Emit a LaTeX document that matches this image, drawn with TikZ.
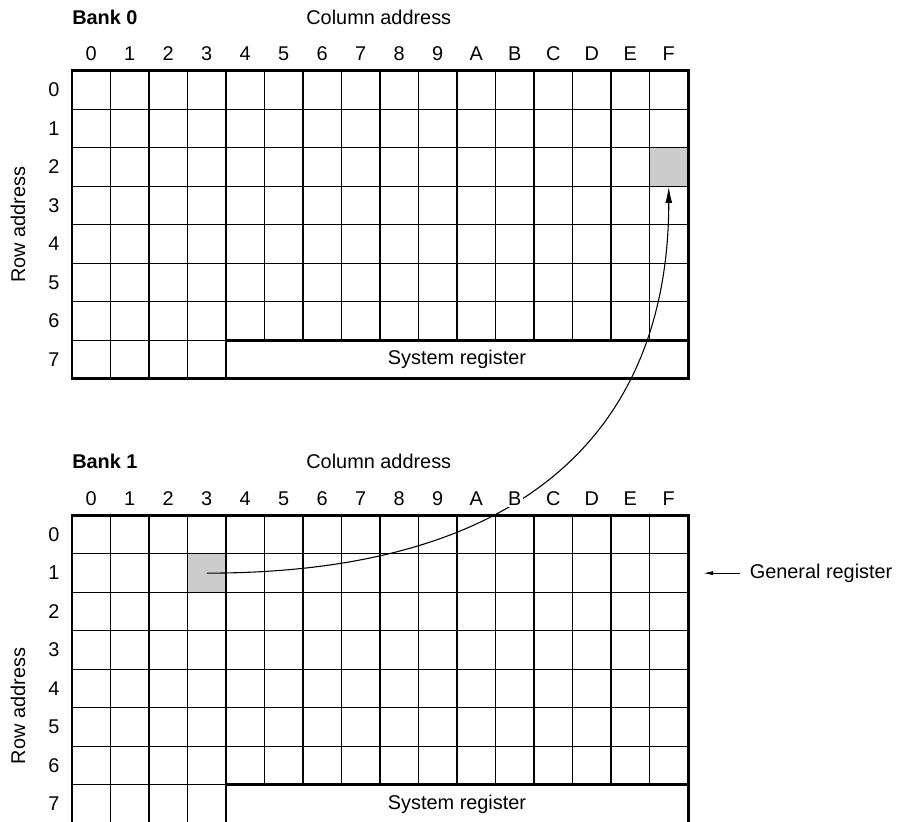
\documentclass[tikz,border=0pt]{standalone}
\usepackage{fontspec}
\setmainfont{Liberation Sans}
\usetikzlibrary{arrows.meta}

\begin{document}
\begin{tikzpicture}[
    x=1cm, y=1cm,
    every node/.append style={font=\fontsize{14.7}{17}\selectfont},
    % 线型
    gridline/.style={line width=0.9pt},
    borderline/.style={line width=2.2pt},
    % 标签样式
    banklabel/.style={anchor=west, inner sep=0pt, font=\fontsize{14.7}{17}\selectfont\bfseries},
    collabel/.style={fill=white, inner sep=1pt},
    % 被选中的寄存器格
    hitcell/.style={draw, line width=0.9pt, fill=gray!40, minimum width=1cm, minimum height=1cm, inner sep=0pt},
    movearrow/.style={-{Latex[length=4.2mm,width=1.8mm]}, line width=0.8pt},
    pointarrow/.style={-{Latex[length=2.6mm,width=1.1mm]}, line width=0.8pt},
]
\useasboundingbox (-1.870, -19.514) rectangle (21.584, 1.836);

% ========== 选中的寄存器格 ==========
\node[hitcell] (hit0) at (15.5, -2.5) {};
\node[hitcell] (hit1) at (3.5, -13.05) {};

% ========== 两个 Bank 的网格 ==========
\foreach \b/\yoff/\ry in {0/0/-4.0, 1/-11.55/-4.95}{
  \begin{scope}[yshift=\yoff cm]
    % 细格线
    \foreach \c in {1,2,3} \draw[gridline] (\c,0) -- (\c,-8);
    \foreach \c in {4,...,15} \draw[gridline] (\c,0) -- (\c,-7);
    \foreach \r in {1,...,6} \draw[gridline] (0,-\r) -- (16,-\r);
    \draw[gridline] (0,-7) -- (4,-7);
    % 系统寄存器
    \draw[borderline] (4,-8) -- (4,-7) -- (16,-7);
    \node (sysreg\b) at (10,-7.5) {System register};
    % 外框
    \draw[borderline] (0,0) rectangle (16,-8);
    % 标题与行号
    \node[banklabel] (bank\b) at (0, 1.39) {Bank \b};
    \node[anchor=west, inner sep=0pt] (coladdr\b) at (6.08, 1.39) {Column address};
    \foreach \r in {0,...,7} \node (b\b row\r) at (-0.47, -\r-0.5) {\r};
    \node[rotate=90] (rowaddr\b) at (-1.40, \ry) {Row address};
  \end{scope}
}

% ========== 数据移动 ==========
\draw[movearrow] (hit1.center) .. controls +(9.17,0) and +(0,-5.5) .. (hit0.south);

% ========== 列号 (白底, 盖住曲线) ==========
\foreach \b/\yoff in {0/0, 1/-11.55}{
  \foreach \c [count=\i from 0] in {0,1,2,3,4,5,6,7,8,9,A,B,C,D,E,F}
    \node[collabel] (b\b col\c) at (\i+0.5, \yoff+0.44) {\c};
}

% ========== 通用寄存器说明 ==========
\node[anchor=west] (genreg) at (17.48, -13.05) {General register};
\coordinate (genptr) at (16.39, -13.05);
\draw[pointarrow, shorten <=1.2mm] (genreg.west) -- (genptr);

\end{tikzpicture}
\end{document}
